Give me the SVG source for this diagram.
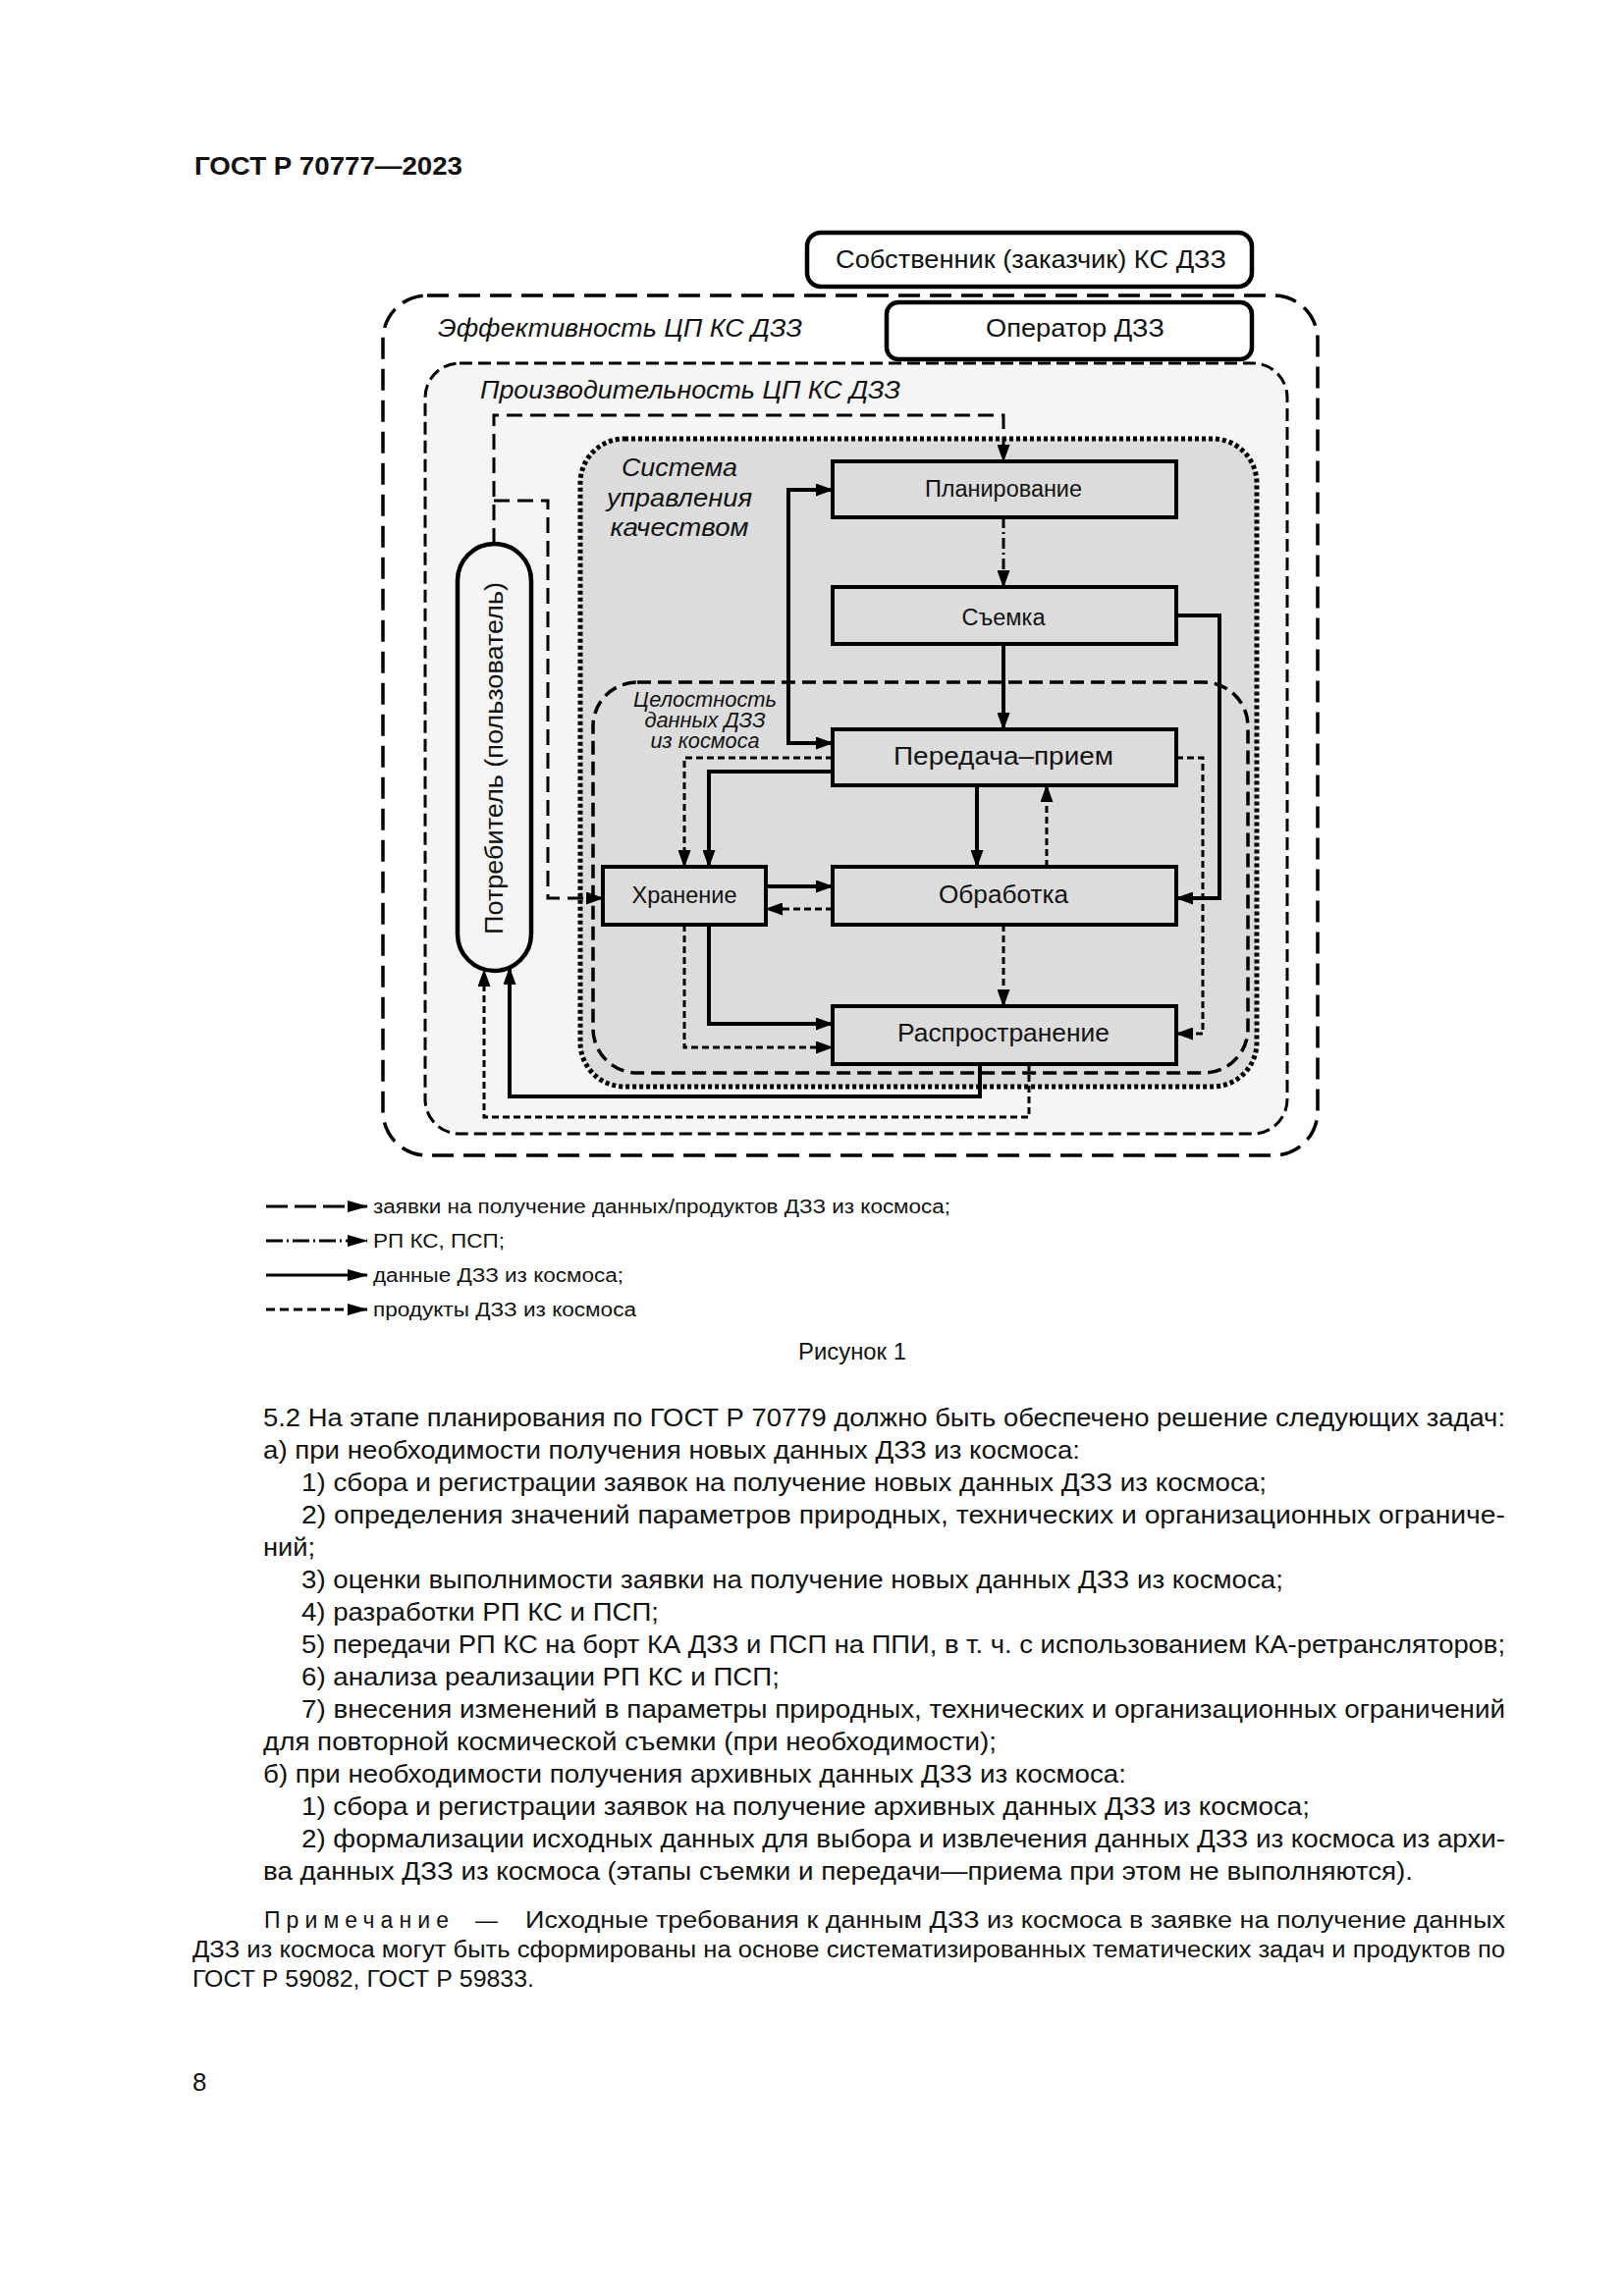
<svg xmlns="http://www.w3.org/2000/svg" width="1654" height="2339" viewBox="0 0 1654 2339">
<style>
text{font-family:"Liberation Sans",Arial,"Noto Sans",sans-serif;fill:#111}
.it{font-style:italic}
.node{fill:#dcdcdc;stroke:#000;stroke-width:4}
.solid{fill:none;stroke:#000;stroke-width:4}
.req{fill:none;stroke:#000;stroke-width:3;stroke-dasharray:16 8}
.rp{fill:none;stroke:#000;stroke-width:3;stroke-dasharray:11 4 2 4}
.prod{fill:none;stroke:#000;stroke-width:3;stroke-dasharray:7 4}
.body{font-size:26px}
.note{font-size:23px}
.lg{font-size:20px}
.lgl{fill:none;stroke:#000;stroke-width:2.8}
</style>
<defs>
<marker id="ah" markerUnits="userSpaceOnUse" markerWidth="18" markerHeight="13" refX="17" refY="6.5" orient="auto-start-reverse"><path d="M0,0 L18,6.5 L0,13 z" fill="#000"/></marker>
<marker id="ahl" markerUnits="userSpaceOnUse" markerWidth="21" markerHeight="12" refX="20" refY="6" orient="auto"><path d="M0,0 L21,6 L0,12 z" fill="#000"/></marker>
</defs>
<rect width="1654" height="2339" fill="#fff"/>

<text x="198" y="178" font-size="26" font-weight="bold" textLength="273" lengthAdjust="spacingAndGlyphs">ГОСТ Р 70777—2023</text>

<g id="frame-efficiency">
<rect x="390" y="301" width="952" height="876" rx="45" fill="#fff" stroke="#000" stroke-width="3.5" stroke-dasharray="22 10"/>
<text class="it" x="446" y="343" font-size="25" textLength="371" lengthAdjust="spacingAndGlyphs">Эффективность ЦП КС ДЗЗ</text>
</g>
<g id="owner">
<rect x="822" y="237" width="453" height="55" rx="14" fill="#fff" stroke="#000" stroke-width="4.5"/>
<text x="1050" y="273" font-size="25" text-anchor="middle" textLength="398" lengthAdjust="spacingAndGlyphs">Собственник (заказчик) КС ДЗЗ</text>
</g>
<g id="operator">
<rect x="903" y="308" width="372" height="58" rx="12" fill="#fff" stroke="#000" stroke-width="4.5"/>
<text x="1095" y="343" font-size="25" text-anchor="middle" textLength="182" lengthAdjust="spacingAndGlyphs">Оператор ДЗЗ</text>
</g>
<g id="frame-performance">
<rect x="433" y="370" width="878" height="785" rx="35" fill="#f5f5f5" stroke="#000" stroke-width="3" stroke-dasharray="13 6"/>
<text class="it" x="489" y="406" font-size="25" textLength="428" lengthAdjust="spacingAndGlyphs">Производительность ЦП КС ДЗЗ</text>
</g>
<g id="frame-quality">
<rect x="591" y="447" width="689" height="660" rx="45" fill="#dcdcdc" stroke="#000" stroke-width="5" stroke-dasharray="4 3"/>
<text class="it" x="692" y="485" font-size="26" text-anchor="middle" textLength="118" lengthAdjust="spacingAndGlyphs">Система</text>
<text class="it" x="692" y="516" font-size="26" text-anchor="middle" textLength="148" lengthAdjust="spacingAndGlyphs">управления</text>
<text class="it" x="692" y="546" font-size="26" text-anchor="middle" textLength="141" lengthAdjust="spacingAndGlyphs">качеством</text>
</g>
<g id="frame-integrity">
<rect x="604" y="695" width="667" height="398" rx="45" fill="none" stroke="#000" stroke-width="3.5" stroke-dasharray="14 7"/>
<text class="it" x="718" y="720" font-size="22" text-anchor="middle" textLength="146" lengthAdjust="spacingAndGlyphs">Целостность</text>
<text class="it" x="718" y="741" font-size="22" text-anchor="middle" textLength="123" lengthAdjust="spacingAndGlyphs">данных ДЗЗ</text>
<text class="it" x="718" y="762" font-size="22" text-anchor="middle" textLength="111" lengthAdjust="spacingAndGlyphs">из космоса</text>
</g>

<g id="connectors">
<path class="req" d="M503,554 V423 H1022 V470" marker-end="url(#ah)"/>
<path class="req" d="M503,510 H558 V915 H614" marker-end="url(#ah)"/>
<path class="rp" d="M1022,527 V598" marker-end="url(#ah)"/>
<path class="solid" d="M1022,656 V743" marker-end="url(#ah)"/>
<path class="solid" d="M1198,627 H1242 V915 H1198" marker-end="url(#ah)"/>
<path class="solid" d="M848,499 H803 V757 H848" marker-start="url(#ah)" marker-end="url(#ah)"/>
<path class="prod" d="M848,772 H697 V883" marker-end="url(#ah)"/>
<path class="solid" d="M848,786 H722 V883" marker-end="url(#ah)"/>
<path class="solid" d="M780,903 H848" marker-end="url(#ah)"/>
<path class="prod" d="M848,926 H780" marker-end="url(#ah)"/>
<path class="solid" d="M995,800 V883" marker-end="url(#ah)"/>
<path class="prod" d="M1066,883 V800" marker-end="url(#ah)"/>
<path class="prod" d="M1198,772 H1225 V1053 H1198" marker-end="url(#ah)"/>
<path class="prod" d="M1022,942 V1025" marker-end="url(#ah)"/>
<path class="solid" d="M722,942 V1043 H848" marker-end="url(#ah)"/>
<path class="prod" d="M697,942 V1067 H848" marker-end="url(#ah)"/>
<path class="solid" d="M998,1084 V1117 H519 V986" marker-end="url(#ah)"/>
<path class="prod" d="M1048,1084 V1138 H493 V988" marker-end="url(#ah)"/>
</g>

<g id="consumer">
<rect x="466" y="554" width="75" height="435" rx="37.5" fill="#f5f5f5" stroke="#000" stroke-width="4.5"/>
<text x="512" y="772.5" font-size="26" text-anchor="middle" transform="rotate(-90 512 772.5)" textLength="359" lengthAdjust="spacingAndGlyphs">Потребитель (пользователь)</text>
</g>
<g id="planning">
<rect class="node" x="848" y="470" width="350" height="57"/>
<text x="1022" y="506" font-size="23" text-anchor="middle" textLength="160" lengthAdjust="spacingAndGlyphs">Планирование</text>
</g>
<g id="survey">
<rect class="node" x="848" y="598" width="350" height="58"/>
<text x="1022" y="637" font-size="23" text-anchor="middle" textLength="85" lengthAdjust="spacingAndGlyphs">Съемка</text>
</g>
<g id="transmission">
<rect class="node" x="848" y="743" width="350" height="57"/>
<text x="1022" y="779" font-size="26" text-anchor="middle" textLength="224" lengthAdjust="spacingAndGlyphs">Передача–прием</text>
</g>
<g id="storage">
<rect class="node" x="614" y="883" width="166" height="59"/>
<text x="697" y="920" font-size="24" text-anchor="middle" textLength="107" lengthAdjust="spacingAndGlyphs">Хранение</text>
</g>
<g id="processing">
<rect class="node" x="848" y="883" width="350" height="59"/>
<text x="1022" y="920" font-size="25" text-anchor="middle" textLength="132" lengthAdjust="spacingAndGlyphs">Обработка</text>
</g>
<g id="distribution">
<rect class="node" x="848" y="1025" width="350" height="59"/>
<text x="1022" y="1061" font-size="25" text-anchor="middle" textLength="216" lengthAdjust="spacingAndGlyphs">Распространение</text>
</g>

<g id="legend">
<path class="lgl" d="M271,1229 H374" stroke-dasharray="22 7" marker-end="url(#ahl)"/>
<text class="lg" x="380" y="1236" textLength="588" lengthAdjust="spacingAndGlyphs">заявки на получение данных/продуктов ДЗЗ из космоса;</text>
<path class="lgl" d="M271,1264 H374" stroke-dasharray="17 4 2 4" marker-end="url(#ahl)"/>
<text class="lg" x="380" y="1271" textLength="134" lengthAdjust="spacingAndGlyphs">РП КС, ПСП;</text>
<path class="lgl" d="M271,1299 H374" marker-end="url(#ahl)"/>
<text class="lg" x="380" y="1306" textLength="255" lengthAdjust="spacingAndGlyphs">данные ДЗЗ из космоса;</text>
<path class="lgl" d="M271,1334 H374" stroke-dasharray="9 5" marker-end="url(#ahl)"/>
<text class="lg" x="380" y="1341" textLength="268" lengthAdjust="spacingAndGlyphs">продукты ДЗЗ из космоса</text>
</g>

<text x="868" y="1385" font-size="23" text-anchor="middle" textLength="110" lengthAdjust="spacingAndGlyphs">Рисунок 1</text>

<g id="body-text">
<text class="body" x="268" y="1453" textLength="1265" lengthAdjust="spacingAndGlyphs">5.2 На этапе планирования по ГОСТ Р 70779 должно быть обеспечено решение следующих задач:</text>
<text class="body" x="268" y="1486" textLength="832" lengthAdjust="spacingAndGlyphs">а) при необходимости получения новых данных ДЗЗ из космоса:</text>
<text class="body" x="307" y="1519" textLength="983" lengthAdjust="spacingAndGlyphs">1) сбора и регистрации заявок на получение новых данных ДЗЗ из космоса;</text>
<text class="body" x="307" y="1552" textLength="1226" lengthAdjust="spacingAndGlyphs">2) определения значений параметров природных, технических и организационных ограниче-</text>
<text class="body" x="268" y="1585" textLength="53" lengthAdjust="spacingAndGlyphs">ний;</text>
<text class="body" x="307" y="1618" textLength="1000" lengthAdjust="spacingAndGlyphs">3) оценки выполнимости заявки на получение новых данных ДЗЗ из космоса;</text>
<text class="body" x="307" y="1651" textLength="364" lengthAdjust="spacingAndGlyphs">4) разработки РП КС и ПСП;</text>
<text class="body" x="307" y="1684" textLength="1226" lengthAdjust="spacingAndGlyphs">5) передачи РП КС на борт КА ДЗЗ и ПСП на ППИ, в т. ч. с использованием КА-ретрансляторов;</text>
<text class="body" x="307" y="1717" textLength="487" lengthAdjust="spacingAndGlyphs">6) анализа реализации РП КС и ПСП;</text>
<text class="body" x="307" y="1750" textLength="1226" lengthAdjust="spacingAndGlyphs">7) внесения изменений в параметры природных, технических и организационных ограничений</text>
<text class="body" x="268" y="1783" textLength="747" lengthAdjust="spacingAndGlyphs">для повторной космической съемки (при необходимости);</text>
<text class="body" x="268" y="1816" textLength="879" lengthAdjust="spacingAndGlyphs">б) при необходимости получения архивных данных ДЗЗ из космоса:</text>
<text class="body" x="307" y="1849" textLength="1027" lengthAdjust="spacingAndGlyphs">1) сбора и регистрации заявок на получение архивных данных ДЗЗ из космоса;</text>
<text class="body" x="307" y="1882" textLength="1226" lengthAdjust="spacingAndGlyphs">2) формализации исходных данных для выбора и извлечения данных ДЗЗ из космоса из архи-</text>
<text class="body" x="268" y="1915" textLength="1171" lengthAdjust="spacingAndGlyphs">ва данных ДЗЗ из космоса (этапы съемки и передачи—приема при этом не выполняются).</text>
<text class="note" x="269" y="1964" letter-spacing="9" textLength="197" lengthAdjust="spacing">Примечание</text>
<text class="note" x="484" y="1964">—</text>
<text class="note" x="535" y="1964" textLength="998" lengthAdjust="spacingAndGlyphs">Исходные требования к данным ДЗЗ из космоса в заявке на получение данных</text>
<text class="note" x="196" y="1994" textLength="1337" lengthAdjust="spacingAndGlyphs">ДЗЗ из космоса могут быть сформированы на основе систематизированных тематических задач и продуктов по</text>
<text class="note" x="196" y="2024" textLength="348" lengthAdjust="spacingAndGlyphs">ГОСТ Р 59082, ГОСТ Р 59833.</text>
<text class="body" x="196" y="2130" font-size="24">8</text>
</g>
</svg>
